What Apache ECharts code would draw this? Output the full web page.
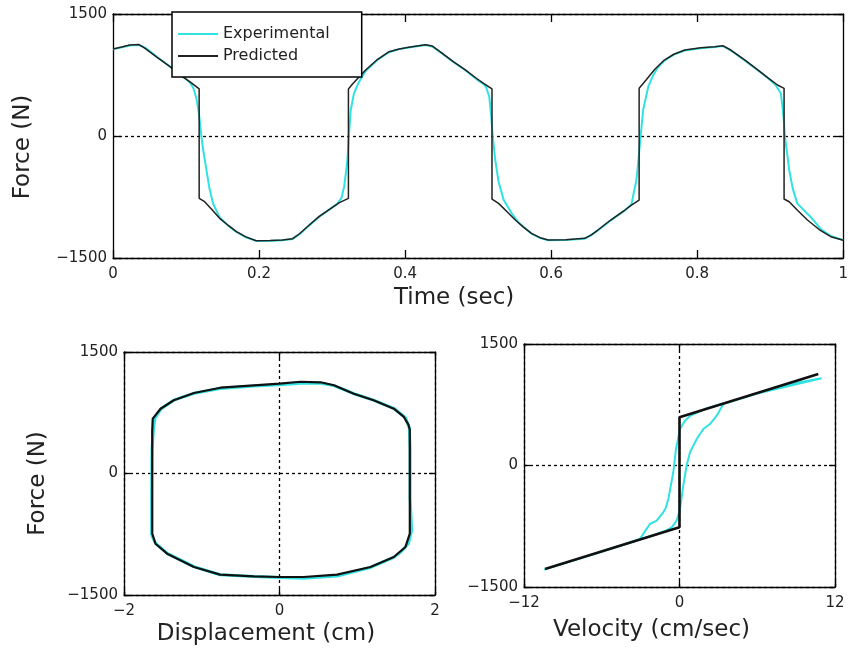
<!DOCTYPE html>
<html>
<head>
<meta charset="utf-8">
<script src="https://cdn.jsdelivr.net/npm/echarts@6/dist/echarts.min.js"></script>
<style>
  html, body { margin: 0; padding: 0; background: #fff; }
  #chart { width: 851px; height: 655px; }
</style>
</head>
<body>
<div id="chart"></div>
<script>
// force vs time
var timeExp = [0.000, 0.012, 0.025, 0.036, 0.045, 0.060, 0.078, 0.095, 0.105, 0.110, 0.114, 0.117, 0.119, 0.121, 0.124, 0.128, 0.132, 0.137, 0.146, 0.158, 0.169, 0.182, 0.196, 0.215, 0.232, 0.246, 0.255, 0.268, 0.282, 0.296, 0.307, 0.313, 0.3165, 0.319, 0.321, 0.323, 0.3256, 0.330, 0.337, 0.346, 0.362, 0.378, 0.392, 0.405, 0.428, 0.437, 0.451, 0.466, 0.4825, 0.4975, 0.507, 0.511, 0.5153, 0.518, 0.520, 0.5235, 0.528, 0.535, 0.546, 0.556, 0.573, 0.585, 0.596, 0.620, 0.646, 0.655, 0.664, 0.682, 0.701, 0.710, 0.7168, 0.720, 0.7226, 0.726, 0.733, 0.7394, 0.746, 0.755, 0.768, 0.783, 0.805, 0.824, 0.835, 0.846, 0.865, 0.883, 0.897, 0.907, 0.9145, 0.917, 0.919, 0.920, 0.923, 0.926, 0.931, 0.937, 0.955, 0.970, 0.983, 1.000];
var forceExp = [1065, 1090, 1115, 1118, 1080, 975, 855, 740, 660, 590, 470, 320, 170, 0, -200, -420, -640, -830, -1000, -1105, -1180, -1245, -1290, -1290, -1282, -1265, -1210, -1105, -995, -905, -835, -760, -623, -450, -295, 0, 320, 525, 668, 800, 935, 1030, 1068, 1088, 1118, 1100, 1012, 910, 808, 700, 640, 600, 483, 237, 0, -295, -562, -787, -950, -1070, -1200, -1255, -1283, -1280, -1262, -1218, -1160, -1035, -915, -840, -541, -250, 0, 320, 606, 740, 840, 925, 1000, 1050, 1080, 1093, 1105, 1052, 930, 808, 710, 630, 525, 350, 150, 0, -200, -418, -650, -828, -992, -1150, -1230, -1280];

var timePred = [0.000, 0.012, 0.023, 0.035, 0.042, 0.060, 0.078, 0.095, 0.105, 0.118, 0.118, 0.1255, 0.136, 0.146, 0.158, 0.169, 0.182, 0.196, 0.215, 0.232, 0.246, 0.255, 0.268, 0.282, 0.296, 0.310, 0.3224, 0.3224, 0.328, 0.346, 0.362, 0.378, 0.392, 0.405, 0.428, 0.437, 0.451, 0.466, 0.4825, 0.4975, 0.5075, 0.519, 0.519, 0.528, 0.540, 0.551, 0.562, 0.573, 0.585, 0.596, 0.620, 0.646, 0.655, 0.664, 0.682, 0.701, 0.711, 0.7205, 0.7205, 0.730, 0.742, 0.755, 0.768, 0.783, 0.805, 0.824, 0.835, 0.846, 0.865, 0.883, 0.897, 0.910, 0.919, 0.919, 0.926, 0.938, 0.951, 0.967, 0.983, 1.000];
var forcePred = [1070, 1095, 1120, 1125, 1090, 970, 852, 730, 668, 580, -766, -808, -910, -1012, -1100, -1176, -1240, -1287, -1285, -1279, -1262, -1205, -1100, -992, -905, -820, -766, 578, 639, 812, 940, 1037, 1070, 1090, 1123, 1107, 1017, 915, 812, 710, 648, 578, -775, -828, -935, -1033, -1120, -1197, -1250, -1279, -1275, -1258, -1215, -1156, -1030, -910, -845, -787, 586, 689, 820, 934, 1005, 1057, 1085, 1098, 1111, 1057, 935, 812, 715, 627, 586, -775, -808, -920, -1033, -1150, -1238, -1282];

// force vs displacement loop
var dispExp = [-1.645, -1.645, -1.640, -1.620, -1.600, -1.520, -1.360, -1.100, -0.760, -0.330, 0.000, 0.270, 0.530, 0.700, 0.956, 1.210, 1.470, 1.620, 1.670, 1.680, 1.680, 1.700, 1.660, 1.570, 1.470, 1.170, 0.740, 0.310, 0.000, -0.330, -0.765, -1.100, -1.445, -1.595, -1.645];
var loopForceExp = [-760, -300, 300, 560, 690, 800, 905, 990, 1050, 1080, 1095, 1115, 1115, 1085, 985, 905, 805, 690, 560, 300, -300, -700, -860, -960, -1035, -1160, -1265, -1292, -1285, -1272, -1250, -1150, -985, -860, -760];

var dispPred = [-1.637, -1.637, -1.630, -1.530, -1.360, -1.100, -0.760, -0.330, 0.000, 0.270, 0.530, 0.700, 0.956, 1.210, 1.470, 1.600, 1.660, 1.676, 1.676, 1.620, 1.470, 1.170, 0.740, 0.310, 0.000, -0.330, -0.765, -1.100, -1.445, -1.595, -1.637];
var loopForcePred = [-743, 533, 677, 800, 904, 994, 1059, 1089, 1109, 1133, 1126, 1089, 985, 904, 800, 698, 600, 540, -743, -907, -1031, -1154, -1249, -1278, -1278, -1270, -1249, -1154, -990, -867, -743];

// force vs velocity
var velExp = [10.97, 8.0, 5.0, 2.0, 0.81, 0.42, 0.04, -0.27, -0.48, -0.86, -1.05, -1.25, -1.76, -2.28, -2.7, -3.05, -6.0, -10.45, -6.0, -3.0, -1.17, -0.6, -0.22, 0.04, 0.29, 0.55, 0.81, 1.33, 1.84, 2.35, 2.87, 3.38, 6.0, 10.97];
var velForceExp = [1076, 990, 840, 700, 612, 553, 450, 204, -84, -414, -520, -578, -681, -722, -820, -907, -1060, -1285, -1065, -912, -812, -763, -681, -537, -249, 0, 163, 327, 450, 512, 615, 759, 890, 1076];

var velPred = [-10.38, 0, 0, 10.71];
var velForcePred = [-1278, -763, 595, 1130];

var CYAN = '#30e2e2';
var FONT = 'DejaVu Sans';

var pairs = function(xs, ys) {
    return xs.map(function(x, i) { return [x, ys[i]]; });
};

var tickLabel = function(v) {
    return v < 0 ? '\u2212' + Math.abs(v) : String(v);
};

var grids = [
    { left: 113, top: 14, width: 733, height: 244 },
    { left: 124, top: 352, width: 311, height: 243 },
    { left: 524, top: 344, width: 311, height: 243 }
];

var mainX = function(grid, min, max, interval, name, gap, shift, tickLen) {
    return {
        type: 'value', gridIndex: grid, min: min, max: max, interval: interval,
        position: 'bottom',
        axisLine: { show: true, onZero: false, lineStyle: { color: '#000', width: 1.3 } },
        axisTick: { show: true, inside: true, length: tickLen, lineStyle: { color: '#000', width: 1.3 } },
        axisLabel: { show: true, margin: 9, fontSize: 15, color: '#222', fontFamily: FONT, formatter: tickLabel },
        splitLine: grid === 0 ? { show: false } : { show: true, lineStyle: { color: '#000', width: 1.3, type: [3, 3] } },
        name: name, nameLocation: 'middle', nameGap: gap,
        nameTextStyle: { fontSize: 23, color: '#222', fontFamily: FONT, padding: [0, shift, 0, 0] }
    };
};

var mirrorX = function(grid, min, max, interval, tickLen) {
    return {
        type: 'value', gridIndex: grid, min: min, max: max, interval: interval,
        position: 'top',
        axisLine: { show: true, onZero: false, lineStyle: { color: '#000', width: 1.3 } },
        axisTick: { show: true, inside: true, length: tickLen, lineStyle: { color: '#000', width: 1.3 } },
        axisLabel: { show: false },
        splitLine: { show: false }
    };
};

var mainY = function(grid, name, gap, shift, tickLen) {
    return {
        type: 'value', gridIndex: grid, min: -1500, max: 1500, interval: 1500,
        position: 'left',
        axisLine: { show: true, onZero: false, lineStyle: { color: '#000', width: 1.3 } },
        axisTick: { show: true, inside: true, length: tickLen, lineStyle: { color: '#000', width: 1.3 } },
        axisLabel: { show: true, margin: 6, fontSize: 15, color: '#222', fontFamily: FONT, formatter: tickLabel },
        splitLine: { show: true, lineStyle: { color: '#000', width: 1.3, type: [3, 3] } },
        name: name, nameLocation: 'middle', nameGap: gap,
        nameTextStyle: { fontSize: 23, color: '#222', fontFamily: FONT, padding: [0, shift, 0, 0] }
    };
};

var mirrorY = function(grid, tickLen) {
    return {
        type: 'value', gridIndex: grid, min: -1500, max: 1500, interval: 1500,
        position: 'right',
        axisLine: { show: true, onZero: false, lineStyle: { color: '#000', width: 1.3 } },
        axisTick: { show: true, inside: true, length: tickLen, lineStyle: { color: '#000', width: 1.3 } },
        axisLabel: { show: false },
        splitLine: { show: false }
    };
};

var line = function(name, data, xi, yi, color, width) {
    return {
        name: name, type: 'line', data: data,
        xAxisIndex: xi, yAxisIndex: yi,
        symbol: 'none', smooth: false, silent: true,
        lineStyle: { color: color, width: width },
        itemStyle: { color: color }
    };
};

var option = {
    animation: false,
    backgroundColor: '#fff',
    textStyle: { fontFamily: FONT },
    grid: grids,
    legend: {
        data: ['Experimental', 'Predicted'],
        orient: 'vertical',
        left: 172, top: 12,
        icon: 'rect',
        itemWidth: 40, itemHeight: 2, itemGap: 6,
        padding: [14, 32, 13, 6],
        borderColor: '#000', borderWidth: 1.5, borderRadius: 0,
        backgroundColor: '#fff',
        selectedMode: false,
        textStyle: { fontSize: 16, lineHeight: 16, color: '#222', fontFamily: FONT }
    },
    xAxis: [
        mainX(0, 0, 1, 0.2, 'Time (sec)', 29, 48, 8),
        mirrorX(0, 0, 1, 0.2, 8),
        mainX(1, -2, 2, 2, 'Displacement (cm)', 28, 27, 6),
        mirrorX(1, -2, 2, 2, 6),
        mainX(2, -12, 12, 12, 'Velocity (cm/sec)', 32, 56, 6),
        mirrorX(2, -12, 12, 12, 6)
    ],
    yAxis: [
        mainY(0, 'Force (N)', 78, 22, 8),
        mirrorY(0, 8),
        mainY(1, 'Force (N)', 74, 20, 6),
        mirrorY(1, 6),
        mainY(2, '', 60, 0, 6),
        mirrorY(2, 6)
    ],
    series: [
        line('Experimental', pairs(timeExp, forceExp), 0, 0, CYAN, 2),
        line('Predicted', pairs(timePred, forcePred), 0, 0, '#222', 1.5),
        line('Experimental loop', pairs(dispExp, loopForceExp), 2, 2, CYAN, 3),
        line('Predicted loop', pairs(dispPred, loopForcePred), 2, 2, '#111', 2.2),
        line('Experimental vel', pairs(velExp, velForceExp), 4, 4, CYAN, 2),
        line('Predicted vel', pairs(velPred, velForcePred), 4, 4, '#111', 2.6)
    ]
};

var myChart = echarts.init(document.getElementById('chart'), null, { renderer: 'canvas' });
myChart.setOption(option);
</script>
</body>
</html>
